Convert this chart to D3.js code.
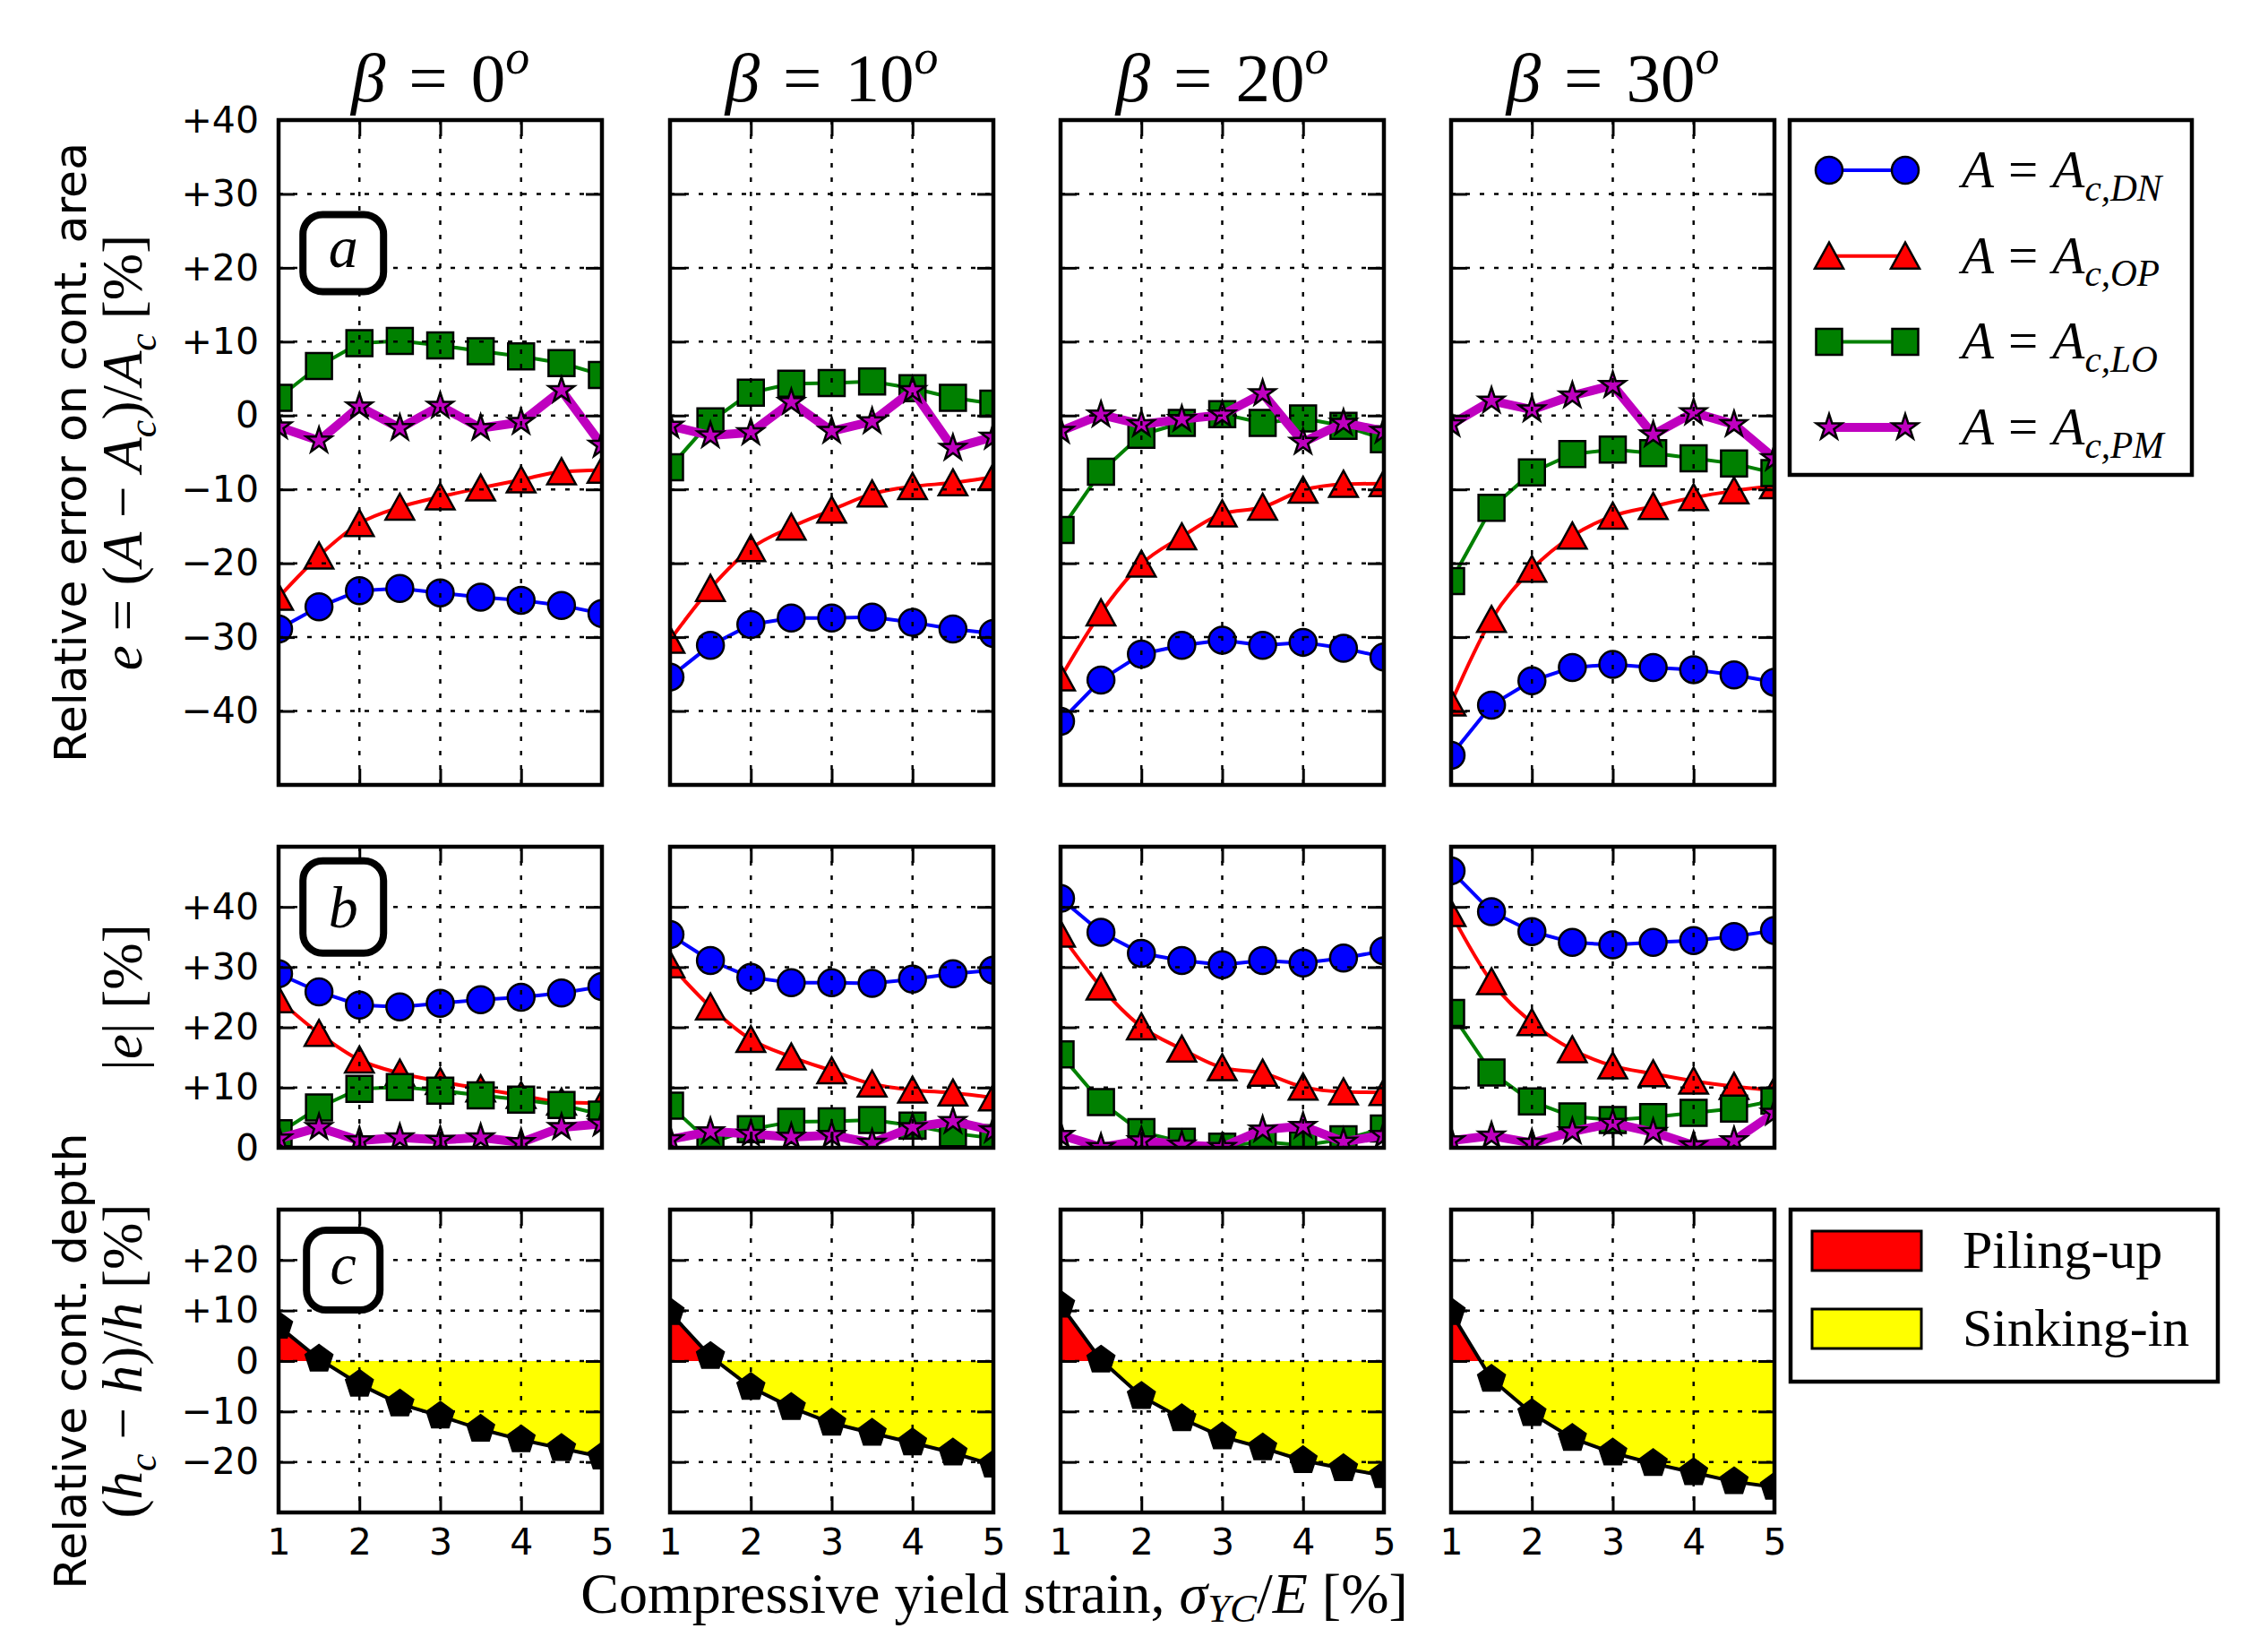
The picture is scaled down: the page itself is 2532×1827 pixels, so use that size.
<!DOCTYPE html>
<html><head><meta charset="utf-8">
<script src="https://cdn.jsdelivr.net/npm/d3@7"></script>
<style>body{margin:0;background:#fff}svg{display:block}</style>
</head><body>
<script>
// ---------------- data ----------------
const betaLabels = ["0", "10", "20", "30"];
const strain = [1, 1.5, 2, 2.5, 3, 3.5, 4, 4.5, 5];
// relative error e [%] on contact area, one row per beta
const errDN = [
  [-28.9, -25.9, -23.7, -23.4, -24.0, -24.6, -25.0, -25.7, -26.8],
  [-35.4, -31.1, -28.3, -27.4, -27.4, -27.3, -28.0, -28.9, -29.5],
  [-41.4, -35.8, -32.3, -31.1, -30.4, -31.1, -30.7, -31.5, -32.7],
  [-46.0, -39.2, -35.9, -34.1, -33.7, -34.1, -34.4, -35.1, -36.1]
];
const errOP = [
  [-24.6, -19.0, -14.6, -12.4, -11.0, -9.8, -8.7, -7.6, -7.4],
  [-30.4, -23.4, -18.0, -15.1, -12.8, -10.6, -9.6, -9.1, -8.3],
  [-35.5, -26.7, -20.1, -16.4, -13.3, -12.4, -10.1, -9.3, -9.2],
  [-38.9, -27.6, -20.8, -16.3, -13.6, -12.3, -11.1, -10.2, -9.5]
];
const errLO = [
  [2.4, 6.7, 9.8, 10.1, 9.5, 8.7, 8.0, 7.1, 5.5],
  [-7.0, -0.8, 3.1, 4.3, 4.4, 4.6, 3.7, 2.4, 1.6],
  [-15.5, -7.6, -2.6, -1.0, 0.2, -1.0, -0.4, -1.4, -3.2],
  [-22.4, -12.5, -7.7, -5.2, -4.6, -5.1, -5.8, -6.5, -7.8]
];
const errPM = [
  [-1.5, -3.4, 1.2, -1.7, 1.3, -1.7, -0.9, 3.4, -4.0],
  [-1.4, -2.7, -2.3, 1.8, -2.1, -0.8, 3.4, -4.4, -2.9],
  [-2.1, 0.1, -1.2, -0.5, 0.1, 3.0, -3.6, -1.0, -2.1],
  [-1.2, 2.0, 0.8, 2.7, 4.1, -2.6, 0.4, -1.2, -5.8]
];
// relative contact depth (hc-h)/h [%]
const depthErr = [
  [6.9, 0.4, -4.6, -8.5, -10.9, -13.5, -15.6, -17.3, -19.0],
  [9.6, 0.9, -5.2, -9.2, -12.3, -14.3, -16.2, -18.2, -20.6],
  [11.1, 0.2, -7.0, -11.4, -15.0, -17.2, -19.7, -21.3, -22.7],
  [9.6, -3.6, -10.4, -15.3, -18.2, -20.3, -22.1, -23.9, -25.0]
];
const seriesKeys = ["DN", "OP", "LO", "PM"];
const seriesData = [errDN, errOP, errLO, errPM];
const fillLabels = ["Piling-up", "Sinking-in"];
const ticksX = [1, 2, 3, 4, 5];
const ticksA = [-40, -30, -20, -10, 0, 10, 20, 30, 40];
const ticksB = [0, 10, 20, 30, 40];
const ticksC = [-20, -10, 0, 10, 20];

// ---------------- layout / style ----------------
const W = 2532, H = 1827;
const colLeft = [311, 748, 1184, 1620], colW = 361;
const rows = [
  {key: "a", top: 134, bottom: 876, domain: [-50, 40], ticks: ticksA, boxW: 90, boxH: 86, asc: 0.23},
  {key: "b", top: 945, bottom: 1281, domain: [0, 50], ticks: ticksB, boxW: 90, boxH: 103, asc: 0.34},
  {key: "c", top: 1350, bottom: 1688, domain: [-30, 30], ticks: ticksC, boxW: 82, boxH: 89, asc: 0.23}
];
const style = {
  DN: {color: "#0000ff", lw: 4, marker: "circle"},
  OP: {color: "#ff0000", lw: 4, marker: "triangle"},
  LO: {color: "#008000", lw: 4, marker: "square"},
  PM: {color: "#bf00bf", lw: 10, marker: "star"}
};
const SANS = "DejaVu Sans", SERIF = "Liberation Serif";
const fmt = v => v > 0 ? "+" + v : v < 0 ? "\u2212" + Math.abs(v) : "0";

const svg = d3.select("body").append("svg").attr("width", W).attr("height", H)
  .style("background", "#fff");

// ---------- marker shapes ----------
function markerPath(type, cx, cy) {
  const p = d3.path();
  if (type === "circle") {
    p.moveTo(cx + 15, cy); p.arc(cx, cy, 15, 0, 2 * Math.PI);
  } else if (type === "square") {
    p.rect(cx - 14.5, cy - 14.5, 29, 29);
  } else if (type === "triangle") {
    p.moveTo(cx, cy - 15); p.lineTo(cx - 16, cy + 14); p.lineTo(cx + 16, cy + 14); p.closePath();
  } else if (type === "star") {
    for (let k = 0; k < 10; k++) {
      const a = -Math.PI / 2 + k * Math.PI / 5, rr = k % 2 ? 15 * 0.382 : 15;
      const px = cx + rr * Math.cos(a), py = cy + rr * Math.sin(a);
      k ? p.lineTo(px, py) : p.moveTo(px, py);
    }
    p.closePath();
  } else if (type === "pentagon") {
    for (let k = 0; k < 5; k++) {
      const a = -Math.PI / 2 + k * 2 * Math.PI / 5;
      const px = cx + 16 * Math.cos(a), py = cy + 16 * Math.sin(a);
      k ? p.lineTo(px, py) : p.moveTo(px, py);
    }
    p.closePath();
  }
  return p.toString();
}

// rich text helper (italic / sub / sup)
function rich(sel, parts, size, subShift) {
  let shift = 0;
  const sb = subShift == null ? 0.25 : subShift;
  parts.forEach(pt => {
    const ts = sel.append("tspan").text(pt.t);
    if (pt.i) ts.attr("font-style", "italic");
    const target = pt.sub ? sb * size : pt.sup ? -0.4 * size : 0;
    if (target - shift) ts.attr("dy", target - shift);
    if (pt.dx) ts.attr("dx", pt.dx);
    shift = target;
    if (pt.sub || pt.sup) ts.attr("font-size", size * 0.7);
  });
}

function gridAndTicks(g, x, y, r) {
  const top = r.top, bottom = r.bottom, left = x.range()[0], right = x.range()[1];
  const gv = ticksX.filter(v => v > 1 && v < 5);
  const gh = r.ticks.filter(v => v > r.domain[0] && v < r.domain[1]);
  const grid = g.append("g").attr("stroke", "#000").attr("stroke-width", 2.5)
    .attr("stroke-dasharray", "5,11");
  grid.selectAll(".gv").data(gv).join("line")
    .attr("x1", d => x(d)).attr("x2", d => x(d)).attr("y1", top).attr("y2", bottom);
  grid.selectAll(".gh").data(gh).join("line")
    .attr("y1", d => y(d)).attr("y2", d => y(d)).attr("x1", left).attr("x2", right);
  const mk = (axis, tr) => {
    const a = g.append("g").attr("transform", tr).call(axis);
    a.select(".domain").remove();
    a.selectAll(".tick line").attr("stroke-width", 3);
    return a;
  };
  mk(d3.axisRight(y).tickValues(gh).tickSize(-18).tickFormat(""), `translate(${right},0)`);
  mk(d3.axisTop(x).tickValues(gv).tickSize(-18).tickFormat(""), `translate(0,${top})`);
  return {mk};
}

rows.forEach((r, ri) => {
  const y = d3.scaleLinear().domain(r.domain).range([r.bottom, r.top]);
  colLeft.forEach((L, ci) => {
    const x = d3.scaleLinear().domain([1, 5]).range([L, L + colW]);
    const g = svg.append("g");
    const cid = `clip-${r.key}-${ci}`;
    svg.append("clipPath").attr("id", cid).append("rect")
      .attr("x", L).attr("y", r.top).attr("width", colW).attr("height", r.bottom - r.top);
    const plot = g.append("g").attr("clip-path", `url(#${cid})`);

    if (r.key === "c") {
      const vals = depthErr[ci];
      const area = d3.area().x((d, i) => x(strain[i])).y0(y(0)).y1(d => y(d));
      const upId = `up-${ci}`, dnId = `dn-${ci}`;
      svg.append("clipPath").attr("id", upId).append("rect")
        .attr("x", L).attr("y", r.top).attr("width", colW).attr("height", y(0) - r.top);
      svg.append("clipPath").attr("id", dnId).append("rect")
        .attr("x", L).attr("y", y(0)).attr("width", colW).attr("height", r.bottom - y(0));
      plot.append("g").attr("clip-path", `url(#${upId})`).append("path")
        .attr("d", area(vals)).attr("fill", "#ff0000");
      plot.append("g").attr("clip-path", `url(#${dnId})`).append("path")
        .attr("d", area(vals)).attr("fill", "#ffff00");
      plot.append("path").attr("d", d3.line().x((d, i) => x(strain[i])).y(d => y(d))(vals))
        .attr("fill", "none").attr("stroke", "#000").attr("stroke-width", 4);
      plot.selectAll(".pm").data(vals).join("path")
        .attr("d", (d, i) => markerPath("pentagon", x(strain[i]), y(d)))
        .attr("fill", "#000").attr("stroke", "#000").attr("stroke-width", 2);
    } else {
      seriesKeys.forEach((k, si) => {
        const raw = seriesData[si][ci];
        const vals = r.key === "b" ? raw.map(Math.abs) : raw;
        const st = style[k];
        const line = d3.line().x((d, i) => x(strain[i])).y(d => y(d))
          .curve(k === "OP" ? d3.curveMonotoneX : d3.curveLinear);
        plot.append("path").attr("d", line(vals)).attr("fill", "none")
          .attr("stroke", st.color).attr("stroke-width", st.lw).attr("stroke-linejoin", "round");
        plot.selectAll(".m" + k).data(vals).join("path")
          .attr("d", (d, i) => markerPath(st.marker, x(strain[i]), y(d)))
          .attr("fill", st.color).attr("stroke", "#000").attr("stroke-width", 2.5);
      });
    }

    const {mk} = gridAndTicks(g, x, y, r);
    const la = mk(d3.axisLeft(y).tickValues(r.ticks).tickSize(-18).tickPadding(22)
      .tickFormat(ci === 0 ? fmt : ""), `translate(${L},0)`);
    la.selectAll(".tick line").filter(d => d <= r.domain[0] || d >= r.domain[1]).remove();
    la.selectAll("text").attr("font-family", SANS).attr("font-size", 41).attr("fill", "#000");
    const ba = mk(d3.axisBottom(x).tickValues(ticksX).tickSize(-18).tickPadding(18)
      .tickFormat(r.key === "c" ? d3.format("d") : ""), `translate(0,${r.bottom})`);
    ba.selectAll(".tick line").filter(d => d <= 1 || d >= 5).remove();
    ba.selectAll("text").attr("font-family", SANS).attr("font-size", 41).attr("fill", "#000");

    g.append("rect").attr("x", L).attr("y", r.top).attr("width", colW).attr("height", r.bottom - r.top)
      .attr("fill", "none").attr("stroke", "#000").attr("stroke-width", 4.5);

    if (ci === 0) {
      const bx = L + 0.2 * colW, by = r.bottom - 0.8 * (r.bottom - r.top);
      g.append("rect").attr("x", bx - r.boxW / 2).attr("y", by - r.boxH / 2)
        .attr("width", r.boxW).attr("height", r.boxH).attr("rx", 22)
        .attr("fill", "#fff").attr("stroke", "#000").attr("stroke-width", 8);
      g.append("text").attr("x", bx).attr("y", by + r.asc * 66).attr("text-anchor", "middle")
        .attr("font-family", SERIF).attr("font-style", "italic").attr("font-size", 66).text(r.key);
    }
    if (ri === 0) {
      const t = svg.append("text").attr("x", L + colW / 2).attr("y", 113).attr("text-anchor", "middle")
        .attr("font-family", SERIF).attr("font-size", 77);
      rich(t, [{t: "\u03B2", i: true}, {t: "=", dx: 26}, {t: betaLabels[ci], dx: 26},
        {t: "o", i: true, sup: true}], 77);
    }
  });
});

// ---------- axis labels ----------
function vlabel(x, cy, parts, font, size, plain) {
  const t = svg.append("text").attr("transform", `translate(${x},${cy}) rotate(-90)`)
    .attr("text-anchor", "middle").attr("font-family", font).attr("font-size", size);
  if (plain) t.text(plain); else rich(t, parts, size);
}
const cyA = (rows[0].top + rows[0].bottom) / 2, cyB = (rows[1].top + rows[1].bottom) / 2,
  cyC = (rows[2].top + rows[2].bottom) / 2;
vlabel(96, cyA, null, SANS, 50.5, "Relative error on cont. area");
vlabel(158, cyA, [{t: "e", i: true}, {t: " = ("}, {t: "A", i: true}, {t: " \u2212 "}, {t: "A", i: true},
  {t: "c", i: true, sub: true}, {t: ")/"}, {t: "A", i: true}, {t: "c", i: true, sub: true}, {t: " [%]"}], SERIF, 63);
vlabel(158, cyB, [{t: "|"}, {t: "e", i: true}, {t: "| [%]"}], SERIF, 63);
vlabel(96, cyC, null, SANS, 50.5, "Relative cont. depth");
vlabel(158, cyC, [{t: "("}, {t: "h", i: true}, {t: "c", i: true, sub: true}, {t: " \u2212 "}, {t: "h", i: true},
  {t: ")/"}, {t: "h", i: true}, {t: " [%]"}], SERIF, 63);

const xl = svg.append("text").attr("x", 1110).attr("y", 1800).attr("text-anchor", "middle")
  .attr("font-family", SERIF).attr("font-size", 64);
rich(xl, [{t: "Compressive yield strain, "}, {t: "\u03C3", i: true}, {t: "YC", i: true, sub: true},
  {t: "/"}, {t: "E", i: true}, {t: " [%]"}], 64, 0.15);

// ---------- legend 1 ----------
const leg1 = svg.append("g");
leg1.append("rect").attr("x", 1998).attr("y", 134).attr("width", 449).attr("height", 396)
  .attr("fill", "#fff").attr("stroke", "#000").attr("stroke-width", 4.5);
seriesKeys.forEach((k, i) => {
  const yy = 190 + i * 95.7, st = style[k];
  leg1.append("line").attr("x1", 2042).attr("x2", 2127).attr("y1", yy).attr("y2", yy)
    .attr("stroke", st.color).attr("stroke-width", st.lw);
  [2042, 2127].forEach(xx => leg1.append("path").attr("d", markerPath(st.marker, xx, yy))
    .attr("fill", st.color).attr("stroke", "#000").attr("stroke-width", 2.5));
  const t = leg1.append("text").attr("x", 2190).attr("y", yy + 19).attr("font-family", SERIF).attr("font-size", 59);
  rich(t, [{t: "A", i: true}, {t: "=", dx: 16}, {t: "A", i: true, dx: 16}, {t: "c," + k, i: true, sub: true}], 59);
});

// ---------- legend 2 ----------
const leg2 = svg.append("g");
leg2.append("rect").attr("x", 1999).attr("y", 1350).attr("width", 477).attr("height", 192)
  .attr("fill", "#fff").attr("stroke", "#000").attr("stroke-width", 4.5);
["#ff0000", "#ffff00"].forEach((c, i) => {
  const yy = 1396 + i * 87;
  leg2.append("rect").attr("x", 2023).attr("y", yy - 22).attr("width", 122).attr("height", 44)
    .attr("fill", c).attr("stroke", "#000").attr("stroke-width", 3);
  leg2.append("text").attr("x", 2191).attr("y", yy + 19).attr("font-family", SERIF).attr("font-size", 60)
    .text(fillLabels[i]);
});
</script>
</body></html>
